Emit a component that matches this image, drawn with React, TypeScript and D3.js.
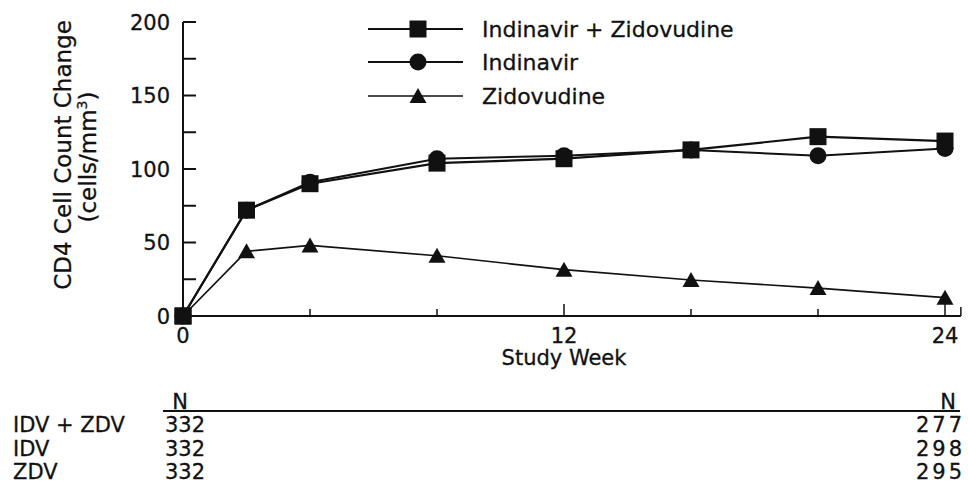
import React from "react";
import * as d3 from "d3";

// CD4 cell count change by study week
const weeks = [0, 2, 4, 8, 12, 16, 20, 24];
const idvZdv = [0, 72, 90, 104, 107, 113, 122, 119];
const idv = [0, 72, 91, 107, 109, 113, 109, 114];
const zdv = [0, 44, 48, 41, 31.5, 24.5, 19, 12.5];

const seriesNames = ["Indinavir + Zidovudine", "Indinavir", "Zidovudine"];
const yTicks = [0, 25, 50, 75, 100, 125, 150, 175, 200];
const yLabels = [0, 50, 100, 150, 200];
const xTicks = [4, 8, 12, 16, 20, 24];
const xLabels = [0, 12, 24];

const tableGroups = ["IDV + ZDV", "IDV", "ZDV"];
const nStart = ["332", "332", "332"];
const nEnd = ["277", "298", "295"];

const FONT = "DejaVu Sans, sans-serif";
const INK = "#111";

type Shape = "square" | "circle" | "triangle";

const Marker = ({ shape, x, y }: { shape: Shape; x: number; y: number }) => {
  if (shape === "square")
    return <rect x={x - 8.5} y={y - 8.5} width={17} height={17} fill={INK} />;
  if (shape === "circle") return <circle cx={x} cy={y} r={8.5} fill={INK} />;
  return (
    <path
      d={`M${x},${y - 8} L${x + 8.5},${y + 7} L${x - 8.5},${y + 7} Z`}
      fill={INK}
    />
  );
};

export default function App() {
  const width = 968;
  const height = 486;

  const x = d3.scaleLinear().domain([0, 24]).range([183, 945]);
  const y = d3.scaleLinear().domain([0, 200]).range([316, 22]);

  const series: { name: string; values: number[]; shape: Shape; sw: number }[] = [
    { name: seriesNames[0], values: idvZdv, shape: "square", sw: 2.2 },
    { name: seriesNames[1], values: idv, shape: "circle", sw: 2 },
    { name: seriesNames[2], values: zdv, shape: "triangle", sw: 1.7 },
  ];

  const line = d3
    .line<number>()
    .x((_, i) => x(weeks[i]))
    .y((d) => y(d));

  const axisEnd = x(24.5);
  const legendY = [29, 62, 96];
  const rowY = [424, 448, 471];

  const txt = { fill: INK, stroke: INK, strokeWidth: 0.3 };

  return (
    <svg
      width={width}
      height={height}
      style={{ position: "absolute", left: 0, top: 0, background: "#fff" }}
      fontFamily={FONT}
    >
      {/* y axis */}
      <line x1={x(0)} x2={x(0)} y1={y(200)} y2={y(0)} stroke={INK} strokeWidth={2} />
      {yTicks.map((t) => (
        <line key={t} x1={x(0)} x2={x(0) + 13} y1={y(t)} y2={y(t)} stroke={INK} strokeWidth={2} />
      ))}
      {yLabels.map((t) => (
        <text key={t} x={170} y={y(t)} dy="0.36em" textAnchor="end" fontSize={21} {...txt}>
          {t}
        </text>
      ))}
      <text transform="translate(71,155) rotate(-90)" textAnchor="middle" fontSize={23} {...txt}>
        CD4 Cell Count Change
      </text>
      <text transform="translate(96,157) rotate(-90)" textAnchor="middle" fontSize={23} {...txt}>
        (cells/mm<tspan fontSize={14} dy={-9}>3</tspan>
        <tspan dy={9}>)</tspan>
      </text>

      {/* x axis */}
      <line x1={x(0)} x2={axisEnd} y1={y(0)} y2={y(0)} stroke={INK} strokeWidth={2} />
      <line x1={axisEnd} x2={axisEnd} y1={y(0)} y2={y(0) - 9} stroke={INK} strokeWidth={1.5} />
      {xTicks.map((t) => (
        <line
          key={t}
          x1={x(t)}
          x2={x(t)}
          y1={y(0)}
          y2={y(0) - (t === 24 ? 18 : t % 12 === 0 ? 12 : 7)}
          stroke={INK}
          strokeWidth={1.5}
        />
      ))}
      {xLabels.map((t) => (
        <text key={t} x={x(t)} y={335} dy="0.36em" textAnchor="middle" fontSize={21} {...txt}>
          {t}
        </text>
      ))}
      <text x={x(12)} y={357} dy="0.36em" textAnchor="middle" fontSize={21} {...txt}>
        Study Week
      </text>

      {/* series */}
      {series.map((s) => (
        <g key={s.name}>
          <path d={line(s.values) ?? ""} fill="none" stroke={INK} strokeWidth={s.sw} />
          {s.values.map((v, i) => (
            <Marker key={i} shape={s.shape} x={x(weeks[i])} y={y(v)} />
          ))}
        </g>
      ))}
      {/* the square covers the origin */}
      <Marker shape="square" x={x(0)} y={y(idvZdv[0])} />

      {/* legend */}
      {series.map((s, i) => (
        <g key={s.name}>
          <line x1={368} x2={463} y1={legendY[i]} y2={legendY[i]} stroke={INK} strokeWidth={s.sw} />
          <Marker shape={s.shape} x={418} y={legendY[i]} />
          <text x={482} y={legendY[i]} dy="0.36em" fontSize={22} {...txt}>
            {s.name}
          </text>
        </g>
      ))}

      {/* patient counts */}
      <line x1={163} x2={960} y1={411} y2={411} stroke={INK} strokeWidth={2} />
      <text x={180} y={409} textAnchor="middle" fontSize={21} {...txt}>N</text>
      <text x={948} y={409} textAnchor="middle" fontSize={21} {...txt}>N</text>
      {tableGroups.map((g, i) => (
        <g key={g}>
          <text x={13} y={rowY[i]} dy="0.36em" fontSize={21} {...txt}>{g}</text>
          <text x={165} y={rowY[i]} dy="0.36em" fontSize={21} {...txt}>{nStart[i]}</text>
          <text x={965} y={rowY[i]} dy="0.36em" textAnchor="end" fontSize={21} letterSpacing={3} {...txt}>
            {nEnd[i]}
          </text>
        </g>
      ))}
    </svg>
  );
}
